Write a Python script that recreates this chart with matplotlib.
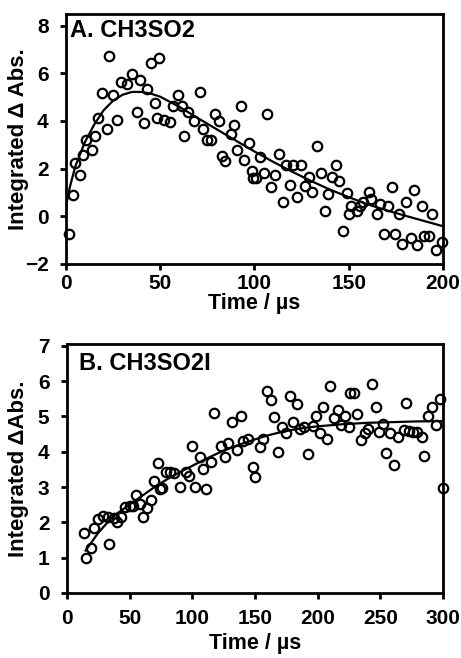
import matplotlib
matplotlib.use("Agg")
import matplotlib.pyplot as plt

# ---------------- Panel A data (CH3SO2) ----------------
a_time = [1.8, 3.5, 7.4, 4.8, 8.8, 13.6, 10.6, 15.4, 17.1, 21.6, 27.2, 18.9, 25.1,
          23.0, 29.2, 32.2, 34.8, 39.3, 43.1, 37.5, 41.4, 44.9, 49.5, 47.2, 48.1,
          59.2, 56.9, 52.2, 55.2, 71.1, 61.4, 64.9, 68.1, 62.8, 72.9, 74.6, 76.9,
          79.0, 81.2, 89.3, 87.5, 92.8, 82.6, 84.6, 90.5, 94.6, 97.1, 98.5, 99.4,
          106.8, 102.9, 100.8, 105.0, 110.9, 108.6, 113.2, 116.7, 120.6, 124.5,
          118.8, 115.0, 122.7, 126.8, 129.1, 130.7, 133.0, 135.1, 138.8, 141.0,
          143.3, 145.0, 137.2, 147.1, 148.9, 150.3, 151.2, 154.2, 156.0, 157.8,
          160.8, 161.8, 164.8, 166.6, 171.0, 172.8, 168.9, 174.5, 176.6, 180.6,
          178.4, 183.0, 184.8, 186.0, 189.0, 190.1, 192.6, 194.4, 196.2, 199.4]
a_signal = [-0.73, 0.89, 1.73, 2.24, 2.59, 2.79, 3.21, 3.35, 4.14, 3.65, 4.03, 5.19, 5.09,
            6.71, 5.65, 5.54, 5.96, 5.72, 5.33, 4.38, 3.92, 6.43, 6.64, 4.76, 4.14,
            5.09, 4.62, 4.06, 3.96, 5.23, 4.62, 4.38, 4.00, 3.35, 3.68, 3.19, 3.19,
            4.31, 4.00, 3.85, 3.47, 4.62, 2.51, 2.34, 2.79, 2.37, 3.07, 1.92, 1.61,
            4.31, 2.48, 1.59, 1.80, 1.72, 1.21, 2.62, 2.16, 2.16, 2.16,
            1.32, 0.58, 0.82, 1.28, 1.64, 1.00, 2.93, 1.80, 0.93, 1.66,
            2.16, 1.49, 0.23, -0.62, 0.96, 0.10, 0.44, 0.23, 0.44, 0.58,
            1.00, 0.72, 0.08, 0.50, 0.44, 1.24, -0.73, -0.76, 0.08, 0.58,
            -1.16, -0.90, 1.10, -1.19, 0.44, -0.83, -0.83, 0.08, -1.41, -1.10]
a_fit_time = [0, 2, 5, 10, 15, 20, 25, 30, 35, 40, 45, 50, 60, 70, 80, 90,
              100, 110, 120, 130, 140, 150, 160, 170, 180, 190, 200]
a_fit = [0.4, 1.2, 2.1, 3.1, 3.85, 4.45, 4.85, 5.1, 5.22, 5.22, 5.15, 5.02, 4.6,
         4.12, 3.65, 3.18, 2.72, 2.28, 1.87, 1.48, 1.12, 0.8, 0.5, 0.25, 0.02,
         -0.2, -0.42]

# ---------------- Panel B data (CH3SO2I) ----------------
b_time = [13.4, 15.2, 19.2, 21.9, 25.1, 28.6, 32.6, 33.9, 37.9, 40.1, 43.3, 46.0,
          50.0, 52.7, 55.4, 58.0, 60.7, 64.2, 66.8, 69.5, 72.7, 74.1,
          75.7, 79.2, 82.6, 85.8, 90.6, 95.2, 99.8, 97.1, 102.4, 105.9, 108.6,
          111.2, 115.2, 117.4, 123.3, 126.5, 128.6, 131.8, 135.3, 138.8, 140.6,
          144.6, 148.5, 150.0, 154.0, 156.7, 159.9, 162.6, 165.3, 168.7, 171.4,
          174.9, 177.6, 180.3, 183.4, 186.2, 189.4, 192.7, 196.3, 198.9, 201.7,
          204.4, 207.5, 210.2, 213.4, 216.1, 218.7, 222.2, 224.9, 226.2, 228.9,
          231.5, 234.2, 237.7, 240.4, 243.6, 246.3, 248.9, 252.1, 254.8, 257.5,
          261.0, 263.7, 269.0, 270.3, 273.0, 275.7, 278.9, 283.2, 285.0, 287.7,
          291.2, 294.4, 297.6, 299.8]
b_signal = [1.69, 0.99, 1.28, 1.84, 2.10, 2.19, 2.16, 1.39, 2.13, 2.00, 2.16, 2.43,
            2.47, 2.47, 2.76, 2.51, 2.16, 2.41, 2.63, 3.18, 3.67, 2.95,
            2.98, 3.42, 3.42, 3.39, 3.01, 3.42, 4.17, 3.32, 3.01, 3.84, 3.51,
            2.95, 3.70, 5.09, 4.17, 3.84, 4.24, 4.84, 4.05, 5.02, 4.30,
            4.35, 3.58, 3.27, 4.13, 4.36, 5.73, 5.47, 4.98, 3.99, 4.71,
            4.52, 5.59, 4.84, 5.36, 4.65, 4.71, 3.94, 4.73, 5.02, 4.52,
            5.26, 4.36, 5.85, 4.96, 5.17, 4.77, 5.02, 4.69, 5.66, 5.66,
            5.07, 4.34, 4.52, 4.65, 5.92, 5.28, 4.55, 4.78, 3.96, 4.52,
            3.61, 4.41, 4.62, 5.38, 4.58, 4.55, 4.55, 4.43, 3.89, 5.00,
            5.26, 4.77, 5.50, 2.97]
b_fit_time = [15, 20, 25, 30, 35, 40, 50, 60, 70, 80, 90, 100, 110, 120, 130, 140,
              150, 160, 170, 180, 190, 200, 220, 240, 260, 280, 300]
b_fit = [1.2, 1.45, 1.7, 1.9, 2.1, 2.25, 2.5, 2.75, 3.0, 3.22, 3.42, 3.6, 3.78,
         3.95, 4.1, 4.23, 4.35, 4.46, 4.55, 4.62, 4.68, 4.72, 4.78, 4.82, 4.84,
         4.86, 4.87]

a_title = "A. CH3SO2"
b_title = "B. CH3SO2I"
a_ylabel = "Integrated \u0394 Abs."
b_ylabel = "Integrated \u0394Abs."
xlabel = "Time / \u00b5s"
a_xticks = [0, 50, 100, 150, 200]
a_yticks = [-2, 0, 2, 4, 6, 8]
b_xticks = [0, 50, 100, 150, 200, 250, 300]
b_yticks = [0, 1, 2, 3, 4, 5, 6, 7]

plt.rcParams['font.family'] = ['Liberation Sans', 'DejaVu Sans']
plt.rcParams['font.weight'] = 'bold'

W, H = 461, 658
fig = plt.figure(figsize=(W / 100, H / 100), dpi=100)
axA = fig.add_axes([0.143, 0.599, 0.818, 0.380])
axB = fig.add_axes([0.145, 0.099, 0.816, 0.378])

mk = dict(marker='o', linestyle='none', markerfacecolor='none',
          markeredgecolor='black', markersize=6.8, markeredgewidth=1.6)

def style(ax, xticks, yticks, xlim, ylim, ylabel, title, tx, ty,
          xpad, ylab_x, xlab_y):
    ax.set_xlim(*xlim)
    ax.set_ylim(*ylim)
    ax.set_xticks(xticks)
    ax.set_yticks(yticks)
    for s in ax.spines.values():
        s.set_linewidth(2.0)
    ax.tick_params(axis='both', which='both', direction='out', length=4.5,
                   width=2, labelsize=15, top=False, right=False)
    ax.tick_params(axis='y', pad=8)
    ax.tick_params(axis='x', pad=xpad)
    for lab in ax.get_xticklabels() + ax.get_yticklabels():
        lab.set_fontweight('bold')
    ax.set_xlabel(xlabel, fontsize=15.5, fontweight='bold')
    ax.set_ylabel(ylabel, fontsize=16, fontweight='bold')
    ax.yaxis.set_label_coords(ylab_x, 0.5)
    ax.xaxis.set_label_coords(0.5, xlab_y)
    ax.text(tx, ty, title, transform=ax.transAxes, fontsize=17,
            fontweight='bold', ha='left', va='top')

axA.plot(a_fit_time, a_fit, color='black', linewidth=1.6, zorder=2)
axA.plot(a_time, a_signal, zorder=3, clip_on=False, **mk)
style(axA, a_xticks, a_yticks, (0, 200), (-2, 8.5), a_ylabel, a_title,
      0.012, 0.98, 3, -0.098, -0.115)

axB.plot(b_fit_time, b_fit, color='black', linewidth=1.6, zorder=2)
axB.plot(b_time, b_signal, zorder=3, clip_on=False, **mk)
style(axB, b_xticks, b_yticks, (0, 300), (0, 7.05), b_ylabel, b_title,
      0.033, 0.97, 7, -0.101, -0.16)

fig.savefig("out.png", dpi=100)
